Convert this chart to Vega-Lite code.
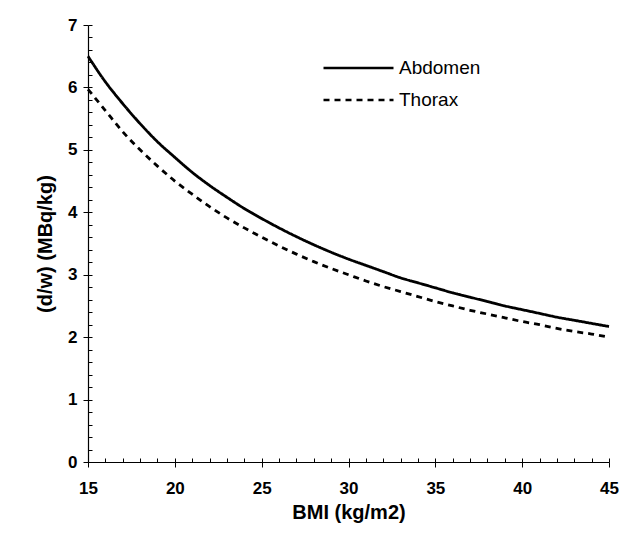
{
  "$schema": "https://vega.github.io/schema/vega-lite/v6.json",
  "width": 521,
  "height": 437,
  "autosize": {"type": "none"},
  "padding": {"left": 88, "top": 25, "right": 15, "bottom": 71},
  "background": "white",
  "config": {
    "font": "Liberation Sans",
    "view": {"stroke": null},
    "axis": {"grid": false, "domainColor": "#000", "tickColor": "#000", "labelColor": "#000", "titleColor": "#000"}
  },
  "data": {"values": [
    {"bmi": 15, "site": "Abdomen", "dw": 6.50}, {"bmi": 16, "site": "Abdomen", "dw": 6.09},
    {"bmi": 17, "site": "Abdomen", "dw": 5.74}, {"bmi": 18, "site": "Abdomen", "dw": 5.42},
    {"bmi": 19, "site": "Abdomen", "dw": 5.13}, {"bmi": 20, "site": "Abdomen", "dw": 4.88},
    {"bmi": 21, "site": "Abdomen", "dw": 4.64}, {"bmi": 22, "site": "Abdomen", "dw": 4.43},
    {"bmi": 23, "site": "Abdomen", "dw": 4.24}, {"bmi": 24, "site": "Abdomen", "dw": 4.06},
    {"bmi": 25, "site": "Abdomen", "dw": 3.90}, {"bmi": 26, "site": "Abdomen", "dw": 3.75},
    {"bmi": 27, "site": "Abdomen", "dw": 3.61}, {"bmi": 28, "site": "Abdomen", "dw": 3.48},
    {"bmi": 29, "site": "Abdomen", "dw": 3.36}, {"bmi": 30, "site": "Abdomen", "dw": 3.25},
    {"bmi": 31, "site": "Abdomen", "dw": 3.15}, {"bmi": 32, "site": "Abdomen", "dw": 3.05},
    {"bmi": 33, "site": "Abdomen", "dw": 2.95}, {"bmi": 34, "site": "Abdomen", "dw": 2.87},
    {"bmi": 35, "site": "Abdomen", "dw": 2.79}, {"bmi": 36, "site": "Abdomen", "dw": 2.71},
    {"bmi": 37, "site": "Abdomen", "dw": 2.64}, {"bmi": 38, "site": "Abdomen", "dw": 2.57},
    {"bmi": 39, "site": "Abdomen", "dw": 2.50}, {"bmi": 40, "site": "Abdomen", "dw": 2.44},
    {"bmi": 41, "site": "Abdomen", "dw": 2.38}, {"bmi": 42, "site": "Abdomen", "dw": 2.32},
    {"bmi": 43, "site": "Abdomen", "dw": 2.27}, {"bmi": 44, "site": "Abdomen", "dw": 2.22},
    {"bmi": 45, "site": "Abdomen", "dw": 2.17},
    {"bmi": 15, "site": "Thorax", "dw": 5.97}, {"bmi": 16, "site": "Thorax", "dw": 5.63},
    {"bmi": 17, "site": "Thorax", "dw": 5.29}, {"bmi": 18, "site": "Thorax", "dw": 5.00},
    {"bmi": 19, "site": "Thorax", "dw": 4.74}, {"bmi": 20, "site": "Thorax", "dw": 4.50},
    {"bmi": 21, "site": "Thorax", "dw": 4.29}, {"bmi": 22, "site": "Thorax", "dw": 4.09},
    {"bmi": 23, "site": "Thorax", "dw": 3.91}, {"bmi": 24, "site": "Thorax", "dw": 3.75},
    {"bmi": 25, "site": "Thorax", "dw": 3.60}, {"bmi": 26, "site": "Thorax", "dw": 3.46},
    {"bmi": 27, "site": "Thorax", "dw": 3.33}, {"bmi": 28, "site": "Thorax", "dw": 3.21},
    {"bmi": 29, "site": "Thorax", "dw": 3.10}, {"bmi": 30, "site": "Thorax", "dw": 3.00},
    {"bmi": 31, "site": "Thorax", "dw": 2.90}, {"bmi": 32, "site": "Thorax", "dw": 2.81},
    {"bmi": 33, "site": "Thorax", "dw": 2.73}, {"bmi": 34, "site": "Thorax", "dw": 2.65},
    {"bmi": 35, "site": "Thorax", "dw": 2.57}, {"bmi": 36, "site": "Thorax", "dw": 2.50},
    {"bmi": 37, "site": "Thorax", "dw": 2.43}, {"bmi": 38, "site": "Thorax", "dw": 2.37},
    {"bmi": 39, "site": "Thorax", "dw": 2.31}, {"bmi": 40, "site": "Thorax", "dw": 2.25},
    {"bmi": 41, "site": "Thorax", "dw": 2.20}, {"bmi": 42, "site": "Thorax", "dw": 2.14},
    {"bmi": 43, "site": "Thorax", "dw": 2.09}, {"bmi": 44, "site": "Thorax", "dw": 2.05},
    {"bmi": 45, "site": "Thorax", "dw": 2.00}
  ]},
  "layer": [
    {
      "mark": {"type": "line", "strokeWidth": 2.8, "color": "#000", "interpolate": "monotone"},
      "encoding": {
        "x": {"field": "bmi", "type": "quantitative", "scale": {"domain": [15, 45], "nice": false, "zero": false},
          "axis": {"orient": "bottom", "values": [15, 20, 25, 30, 35, 40, 45], "title": "BMI (kg/m2)", "titleFontSize": 20, "titleFontWeight": "bold", "titlePadding": 6,
            "labelFontSize": 17, "labelFontWeight": "bold", "labelPadding": 13, "labelFlush": false, "tickSize": 5, "domainWidth": 1.2}},
        "y": {"field": "dw", "type": "quantitative", "scale": {"domain": [0, 7], "nice": false},
          "axis": {"orient": "left", "values": [0, 1, 2, 3, 4, 5, 6, 7], "title": "(d/w) (MBq/kg)", "titleFontSize": 20, "titleFontWeight": "bold", "titlePadding": 12,
            "labelFontSize": 17, "labelFontWeight": "bold", "labelPadding": 6, "labelFlush": false, "tickSize": 5, "domainWidth": 1.2}},
        "strokeDash": {"field": "site", "type": "nominal",
          "scale": {"domain": ["Abdomen", "Thorax"], "range": [[1, 0], [6, 5]]},
          "legend": {"title": null, "orient": "none", "legendX": 234, "legendY": 28, "symbolType": "stroke", "symbolSize": 4900,
            "symbolStrokeWidth": 2.6, "symbolStrokeColor": "#000", "labelFontSize": 19, "labelColor": "#000", "labelOffset": 4, "clipHeight": 30, "rowPadding": 2}}
      }
    },
    {
      "mark": {"type": "line", "opacity": 0},
      "encoding": {
        "x": {"field": "bmi", "type": "quantitative",
          "axis": {"orient": "top", "offset": -437, "values": [15,16,17,18,19,20,21,22,23,24,25,26,27,28,29,30,31,32,33,34,35,36,37,38,39,40,41,42,43,44,45], "labels": false, "title": null, "domain": false, "tickSize": 4}},
        "y": {"field": "dw", "type": "quantitative",
          "axis": {"orient": "right", "offset": -521, "values": [0,0.2,0.4,0.6,0.8,1,1.2,1.4,1.6,1.8,2,2.2,2.4,2.6,2.8,3,3.2,3.4,3.6,3.8,4,4.2,4.4,4.6,4.8,5,5.2,5.4,5.6,5.8,6,6.2,6.4,6.6,6.8,7], "labels": false, "title": null, "domain": false, "tickSize": 4}},
        "detail": {"field": "site"}
      }
    }
  ],
  "resolve": {"axis": {"x": "independent", "y": "independent"}}
}
